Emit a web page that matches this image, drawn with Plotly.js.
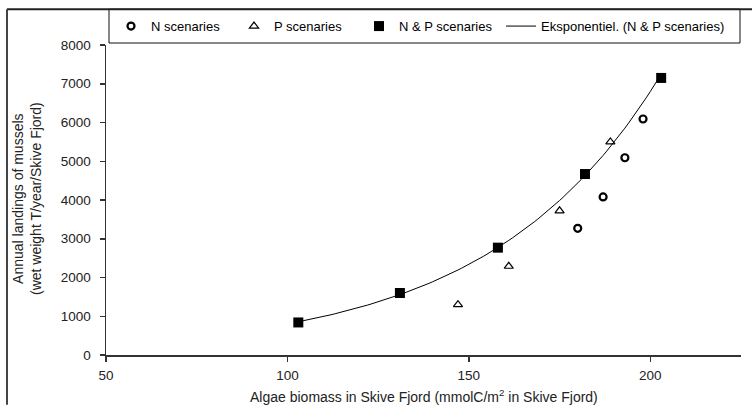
<!DOCTYPE html>
<html>
<head>
<meta charset="utf-8">
<script src="https://cdn.plot.ly/plotly-3.0.1.min.js"></script>
<style>html,body{margin:0;padding:0;background:#fff;}#chart{width:752px;height:405px;}</style>
</head>
<body>
<div id="chart"></div>
<script>
// Data
const nX = [180, 187, 193, 198];
const nY = [3270, 4080, 5090, 6090];
const pX = [147, 161, 175, 189];
const pY = [1300, 2290, 3720, 5500];
const npX = [103, 131, 158, 182, 203];
const npY = [840, 1600, 2770, 4670, 7150];
const xTicks = [50, 100, 150, 200];
const yTicks = [0, 1000, 2000, 3000, 4000, 5000, 6000, 7000, 8000];

// Exponential trendline (least squares on ln y, as a spreadsheet does) from the N & P series
function expFit(xs, ys) {
  const n = xs.length;
  const ly = ys.map(v => Math.log(v));
  const mx = xs.reduce((a, b) => a + b, 0) / n;
  const my = ly.reduce((a, b) => a + b, 0) / n;
  let sxy = 0, sxx = 0;
  for (let i = 0; i < n; i++) { sxy += (xs[i] - mx) * (ly[i] - my); sxx += (xs[i] - mx) ** 2; }
  const b = sxy / sxx;
  const a = Math.exp(my - b * mx);
  return x => a * Math.exp(b * x);
}
const f = expFit(npX, npY);
const xMin = Math.min(...npX), xMax = Math.max(...npX);
const fitX = [], fitY = [];
for (let i = 0; i <= 100; i++) { const x = xMin + (xMax - xMin) * i / 100; fitX.push(x); fitY.push(f(x)); }

const FONT = 'Liberation Sans, Arial, sans-serif';
const L = 106, R = 11, T = 43, B = 50;
const W = 752, H = 405;
const pw = W - L - R, ph = H - T - B;
const px = v => (v - L) / pw;           // pixel -> paper x
const py = v => (H - B - v) / ph;       // pixel -> paper y

const traces = [
  {x: nX, y: nY, name: 'N scenaries', mode: 'markers', type: 'scatter', legend: 'legend',
   marker: {symbol: 'circle-open', size: 7, color: '#000', line: {width: 2.2, color: '#000'}}},
  {x: pX, y: pY, name: 'P scenaries', mode: 'markers', type: 'scatter', legend: 'legend2',
   marker: {symbol: 'triangle-up-open', size: 8, color: '#000', line: {width: 1.2, color: '#000'}}},
  {x: npX, y: npY, name: 'N & P scenaries', mode: 'markers', type: 'scatter', legend: 'legend3',
   marker: {symbol: 'square', size: 10, color: '#000'}},
  {x: fitX, y: fitY, name: 'Eksponentiel. (N & P scenaries)', mode: 'lines', type: 'scatter', legend: 'legend4',
   line: {color: '#000', width: 1}}
];

const legBase = {orientation: 'h', yanchor: 'middle', xanchor: 'left', y: py(24),
  bgcolor: 'rgba(0,0,0,0)', borderwidth: 0, font: {family: FONT, size: 13, color: '#000'}};

const layout = {
  width: W, height: H,
  margin: {l: L, r: R, t: T, b: B, pad: 0},
  paper_bgcolor: '#fff', plot_bgcolor: '#fff',
  font: {family: FONT, color: '#000'},
  showlegend: true,
  legend: Object.assign({}, legBase, {x: px(131 - 20)}),
  legend2: Object.assign({}, legBase, {x: px(253 - 19)}),
  legend3: Object.assign({}, legBase, {x: px(379 - 20)}),
  legend4: Object.assign({}, legBase, {x: px(514 - 13)}),
  xaxis: {
    range: [50, 225], tickvals: xTicks, ticktext: xTicks.map(String),
    showgrid: false, zeroline: false, showline: true, linecolor: '#333', linewidth: 1.5,
    ticks: 'outside', ticklen: 5, tickwidth: 1.5, tickcolor: '#333',
    tickfont: {family: FONT, size: 13.5, color: '#222'}, ticklabelstandoff: 2
  },
  yaxis: {
    range: [0, 8000], tickvals: yTicks, ticktext: yTicks.map(String),
    showgrid: false, zeroline: false, showline: true, linecolor: '#333', linewidth: 1.5,
    ticks: 'outside', ticklen: 5, tickwidth: 1.5, tickcolor: '#333',
    tickfont: {family: FONT, size: 13.5, color: '#222'}, ticklabelstandoff: 6
  },
  annotations: [
    {text: 'Algae biomass in Skive Fjord (mmolC/m<sup>2</sup> in Skive Fjord)', xref: 'paper', yref: 'paper',
     x: 0.5, y: 0, xanchor: 'center', yanchor: 'top', yshift: -30, showarrow: false,
     font: {family: FONT, size: 14, color: '#222'}},
    {text: 'Annual landings of mussels<br>(wet weight T/year/Skive Fjord)', xref: 'paper', yref: 'paper',
     x: px(27), y: py(198), xanchor: 'center', yanchor: 'middle', textangle: -90, showarrow: false,
     font: {family: FONT, size: 14, color: '#222'}}
  ],
  shapes: [
    {type: 'rect', xref: 'paper', yref: 'paper', x0: px(109), x1: px(740), y0: py(41), y1: py(7),
     line: {color: '#111', width: 1}},
    {type: 'line', xref: 'paper', yref: 'paper', x0: px(7), x1: px(752), y0: py(7), y1: py(7),
     line: {color: '#222', width: 2}},
    {type: 'line', xref: 'paper', yref: 'paper', x0: px(7), x1: px(7), y0: py(7), y1: py(405),
     line: {color: '#444', width: 2}}
  ]
};

Plotly.newPlot('chart', traces, layout, {displayModeBar: false, staticPlot: true});
</script>
</body>
</html>
